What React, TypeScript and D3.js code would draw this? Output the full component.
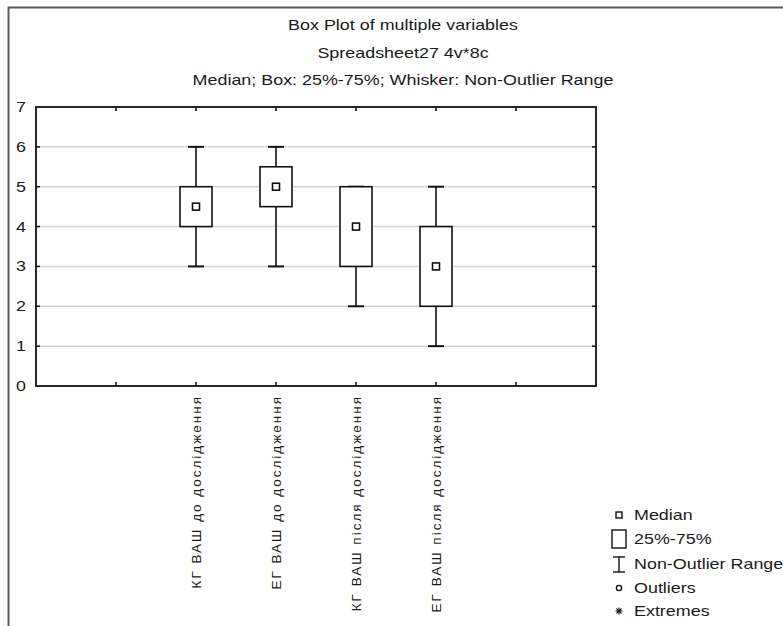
import * as d3 from "d3";

// Box plot stats
const categories = [
  "КГ ВАШ до дослідження",
  "ЕГ ВАШ до дослідження",
  "КГ ВАШ після дослідження",
  "ЕГ ВАШ після дослідження",
];
const slots = [2, 3, 4, 5]; // positions on the 0..7 category axis
const mins = [3, 3, 2, 1];
const q1s = [4, 4.5, 3, 2];
const medians = [4.5, 5, 4, 3];
const q3s = [5, 5.5, 5, 4];
const maxs = [6, 6, 5, 5];

const yTicks = [0, 1, 2, 3, 4, 5, 6, 7];
const xTicks = [0, 1, 2, 3, 4, 5, 6, 7];

const titles = [
  "Box Plot of multiple variables",
  "Spreadsheet27 4v*8c",
  "Median; Box: 25%-75%; Whisker: Non-Outlier Range",
];
const legendItems = ["Median", "25%-75%", "Non-Outlier Range", "Outliers", "Extremes"];

const W = 783;
const H = 626;
const FONT = "'Liberation Sans', Arial, sans-serif";
const SX = 1.28; // statistica text is drawn wide

const HText = ({x, y, anchor = "start", size = 14, children}: any) => (
  <text
    transform={`translate(${x},${y}) scale(${SX},1)`}
    textAnchor={anchor}
    fontSize={size}
    fontFamily={FONT}
    fill="#1a1a1a"
  >
    {children}
  </text>
);

export default function App() {
  const x = d3.scaleLinear().domain([0, 7]).range([36, 596]);
  const y = d3.scaleLinear().domain([0, 7]).range([386, 107]);
  const boxW = 32;
  const capW = 16;
  const med = 7;

  const legX = 619;
  const legTextX = 634;
  const legY = [515, 539, 564, 588, 611];

  return (
    <svg
      width={W}
      height={H}
      style={{position: "absolute", left: 0, top: 0, background: "#fff"}}
    >
      {/* outer frame (top + left only visible) */}
      <path d={`M8.5,${H} V7.5 H${W}`} fill="none" stroke="#5a5a5a" strokeWidth={2} />

      {/* titles */}
      {titles.map((t, i) => (
        <HText key={t} x={403} y={30 + i * 27.5} anchor="middle">
          {t}
        </HText>
      ))}

      {/* grid */}
      {yTicks.slice(1, -1).map((v) => (
        <line key={v} x1={x(0)} x2={x(7)} y1={y(v)} y2={y(v)} stroke="#d4d4d4" strokeWidth={1.5} />
      ))}

      {/* ticks on all four sides, pointing inwards */}
      {xTicks.slice(1, -1).map((v) => (
        <g key={v} stroke="#111" strokeWidth={1.5}>
          <line x1={x(v)} x2={x(v)} y1={y(0)} y2={y(0) - 4} />
          <line x1={x(v)} x2={x(v)} y1={y(7)} y2={y(7) + 4} />
        </g>
      ))}
      {yTicks.slice(1, -1).map((v) => (
        <g key={v} stroke="#111" strokeWidth={1.5}>
          <line x1={x(0)} x2={x(0) + 4} y1={y(v)} y2={y(v)} />
          <line x1={x(7)} x2={x(7) - 4} y1={y(v)} y2={y(v)} />
        </g>
      ))}

      {/* plot frame */}
      <rect
        x={x(0)}
        y={y(7)}
        width={x(7) - x(0)}
        height={y(0) - y(7)}
        fill="none"
        stroke="#111"
        strokeWidth={1.8}
      />

      {/* y tick labels */}
      {yTicks.map((v) => (
        <HText key={v} x={26} y={y(v) + 5} anchor="end">
          {v}
        </HText>
      ))}

      {/* boxes */}
      {categories.map((c, i) => {
        const cx = x(slots[i]);
        return (
          <g key={c} stroke="#111" strokeWidth={1.6} fill="#fff">
            <line x1={cx} x2={cx} y1={y(maxs[i])} y2={y(mins[i])} />
            <line x1={cx - capW / 2} x2={cx + capW / 2} y1={y(maxs[i])} y2={y(maxs[i])} strokeWidth={2} />
            <line x1={cx - capW / 2} x2={cx + capW / 2} y1={y(mins[i])} y2={y(mins[i])} strokeWidth={2} />
            <rect x={cx - boxW / 2} y={y(q3s[i])} width={boxW} height={y(q1s[i]) - y(q3s[i])} />
            <rect x={cx - med / 2} y={y(medians[i]) - med / 2} width={med} height={med} />
          </g>
        );
      })}

      {/* category labels, rotated */}
      {categories.map((c, i) => (
        <text
          key={c}
          transform={`translate(${x(slots[i]) + 5},395) rotate(-90)`}
          textAnchor="end"
          fontSize={13.5}
          letterSpacing={2}
          fontFamily={FONT}
          fill="#1a1a1a"
        >
          {c}
        </text>
      ))}

      {/* legend */}
      <g stroke="#111" strokeWidth={1.4} fill="none">
        <rect x={legX - 3} y={legY[0] - 3} width={6} height={6} />
        <rect x={legX - 7} y={legY[1] - 9} width={14} height={18} />
        <line x1={legX} x2={legX} y1={legY[2] - 7} y2={legY[2] + 8} />
        <line x1={legX - 6} x2={legX + 6} y1={legY[2] - 7} y2={legY[2] - 7} />
        <line x1={legX - 6} x2={legX + 6} y1={legY[2] + 8} y2={legY[2] + 8} />
        <circle cx={legX} cy={legY[3]} r={2.6} />
        <g strokeWidth={1.1}>
          <line x1={legX - 3.5} x2={legX + 3.5} y1={legY[4]} y2={legY[4]} />
          <line x1={legX} x2={legX} y1={legY[4] - 3.5} y2={legY[4] + 3.5} />
          <line x1={legX - 2.5} x2={legX + 2.5} y1={legY[4] - 2.5} y2={legY[4] + 2.5} />
          <line x1={legX - 2.5} x2={legX + 2.5} y1={legY[4] + 2.5} y2={legY[4] - 2.5} />
        </g>
      </g>
      {legendItems.map((t, i) => (
        <HText key={t} x={legTextX} y={legY[i] + 5}>
          {t}
        </HText>
      ))}
    </svg>
  );
}
